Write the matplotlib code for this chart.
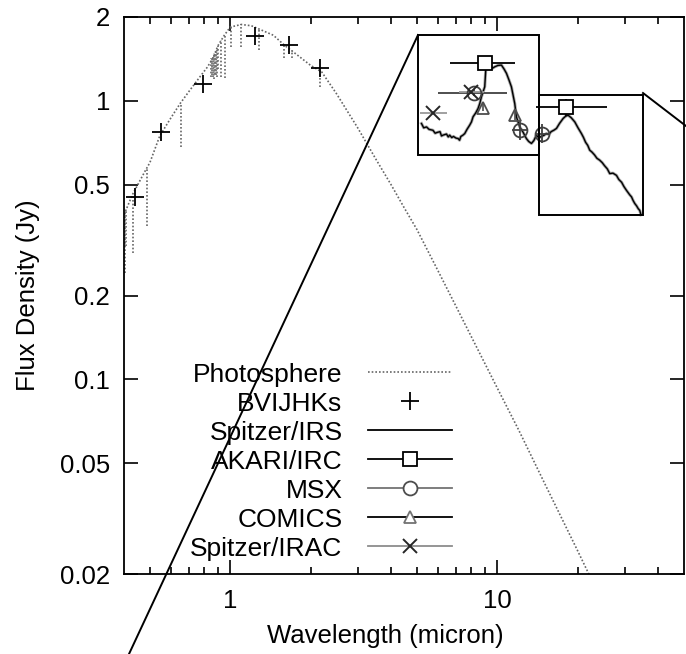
import numpy as np
import matplotlib
matplotlib.use("Agg")
import matplotlib.pyplot as plt
from matplotlib.lines import Line2D
from matplotlib.patches import Rectangle
from matplotlib.ticker import FixedLocator, NullLocator, NullFormatter

plt.rcParams['font.family'] = ['Liberation Sans', 'DejaVu Sans']

# Photosphere model (continuum)
phot_wl = [0.40, 0.43, 0.48, 0.50, 0.545, 0.60, 0.65, 0.70, 0.76, 0.82, 0.86, 0.90,
           0.95, 1.0, 1.1, 1.2, 1.3, 1.45, 1.6, 1.8, 2.0, 2.2, 2.5, 3.0, 3.5, 4.0,
           4.5, 5.0, 6.0, 7.0, 8.0, 10.0, 12.0, 15.0, 20.0, 25.0]
phot_flux = [0.39, 0.46, 0.56, 0.60, 0.75, 0.87, 0.98, 1.08, 1.20, 1.32, 1.42, 1.58,
             1.72, 1.84, 1.88, 1.86, 1.80, 1.72, 1.58, 1.45, 1.34, 1.27, 1.06, 0.80, 0.62, 0.50,
             0.41, 0.345, 0.245, 0.183, 0.142, 0.093, 0.066, 0.0425, 0.0242, 0.0155]

# absorption lines in the model
line_wl = [0.403, 0.408, 0.431, 0.486, 0.656, 0.850, 0.854, 0.860, 0.866, 0.875, 0.882,
           0.890, 0.901, 0.923, 0.955, 1.005, 1.094, 1.282, 1.59, 1.70, 2.166]
line_top = [0.40, 0.41, 0.46, 0.57, 0.98, 1.42, 1.44, 1.46, 1.48, 1.50, 1.52,
            1.55, 1.58, 1.65, 1.74, 1.85, 1.88, 1.81, 1.60, 1.52, 1.30]
line_bot = [0.24, 0.30, 0.285, 0.356, 0.68, 1.22, 1.24, 1.22, 1.20, 1.25, 1.24,
            1.22, 1.30, 1.22, 1.21, 1.56, 1.56, 1.52, 1.43, 1.42, 1.12]

# BVIJHKs photometry
bvi_wl = [0.44, 0.55, 0.79, 1.235, 1.66, 2.16]
bvi_flux = [0.451, 0.772, 1.148, 1.713, 1.586, 1.31]

# Spitzer/IRS spectrum (as shown in the zoom panel)
irs_wl = [5.20, 5.30, 5.43, 5.55, 5.74, 5.85, 5.95, 6.10, 6.18, 6.26, 6.45, 6.55, 6.63, 6.75,
          6.85, 7.00, 7.13, 7.22, 7.30, 7.42, 7.55, 7.70, 7.88, 8.00, 8.11, 8.30, 8.47, 8.60,
          8.72, 8.85, 8.97, 9.05, 9.15, 9.30, 9.45, 9.60, 9.78, 10.05, 10.36, 10.60, 10.82,
          11.05, 11.29, 11.45, 11.62, 11.79, 12.13, 12.50, 12.85, 13.10, 13.42, 13.70, 14.01,
          14.30, 14.60, 14.95, 15.27, 15.60, 15.90, 16.30, 16.65, 17.10, 17.63, 18.00, 18.40,
          18.90, 19.50, 20.05, 20.65, 21.00, 21.40, 21.80, 22.18, 22.60, 23.10, 23.60, 24.18,
          24.70, 25.20, 25.80, 26.36, 27.10, 27.93, 28.50, 29.20, 29.80, 30.45, 31.30, 31.80,
          32.23, 32.70, 33.20, 33.70, 34.15, 34.5]
irs_flux = [0.829, 0.80, 0.806, 0.79, 0.784, 0.765, 0.77, 0.775, 0.748, 0.753, 0.76, 0.742,
            0.753, 0.738, 0.745, 0.735, 0.732, 0.722, 0.745, 0.752, 0.763, 0.79, 0.818, 0.84,
            0.876, 0.905, 0.939, 0.98, 1.034, 1.08, 1.123, 1.29, 1.344, 1.325, 1.33, 1.31,
            1.325, 1.34, 1.344, 1.30, 1.255, 1.19, 1.123, 1.05, 0.978, 0.876, 0.806, 0.77,
            0.732, 0.715, 0.703, 0.72, 0.753, 0.736, 0.745, 0.752, 0.763, 0.758, 0.775, 0.785,
            0.796, 0.83, 0.864, 0.88, 0.888, 0.87, 0.840, 0.80, 0.763, 0.74, 0.71, 0.692,
            0.665, 0.655, 0.64, 0.622, 0.612, 0.600, 0.585, 0.570, 0.548, 0.55, 0.540, 0.522,
            0.51, 0.492, 0.477, 0.46, 0.452, 0.439, 0.428, 0.42, 0.41, 0.404, 0.39]

# AKARI/IRC
akari_wl = [8.97, 18.0]
akari_flux = [1.366, 0.949]
akari_lo = [6.63, 13.93]
akari_hi = [11.62, 25.7]
akari_ferr = [0.05, 0.07]

# MSX
msx_wl = [8.16, 12.13, 14.75]
msx_flux = [1.07, 0.784, 0.763]
msx_lo = [5.98, 11.35, 13.95]
msx_hi = [10.84, 12.95, 15.6]
msx_ferr = [0.03, 0.06, 0.06]

# COMICS
comics_wl = [8.80, 11.62]
comics_flux = [0.946, 0.893]
comics_ferr = [0.03, 0.04]

# Spitzer/IRAC
irac_wl = [5.73, 8.0]
irac_flux = [0.903, 1.075]
irac_lo = [5.12, 7.2]
irac_hi = [6.46, 8.9]

W, H = 686, 654


def fpx(x, y):
    return x / W, 1 - y / H


fig = plt.figure(figsize=(W / 100, H / 100), dpi=100)
ax = fig.add_axes([124 / W, 1 - 574 / H, 560 / W, 557 / H])
ax.set_xscale('log')
ax.set_yscale('log')

phot_style = dict(color='0.4', linestyle=(0, (1, 1.2)), linewidth=1.2)
ax.plot(phot_wl, phot_flux, **phot_style)
ax.vlines(line_wl, line_bot, line_top, **phot_style)

ax.plot(bvi_wl, bvi_flux, '+', color='black', markersize=13, mew=1.3)

ax.plot(irs_wl, irs_flux, color='0.65', linewidth=2.2, solid_joinstyle='round')
ax.plot(irs_wl, irs_flux, color='black', linewidth=1.0)

ax.errorbar(akari_wl, akari_flux,
            xerr=[np.array(akari_wl) - akari_lo, np.array(akari_hi) - akari_wl],
            yerr=akari_ferr, fmt='s', mfc='white', mec='black', ms=10, mew=1.3,
            ecolor='black', elinewidth=1.3, capsize=0)
ax.errorbar(msx_wl, msx_flux,
            xerr=[np.array(msx_wl) - msx_lo, np.array(msx_hi) - msx_wl],
            yerr=msx_ferr, fmt='o', mfc='none', mec='0.25', ms=10, mew=1.3,
            ecolor='0.25', elinewidth=1.3, capsize=0)
ax.errorbar(comics_wl, comics_flux, yerr=comics_ferr, fmt='^', mfc='none', mec='0.3',
            ms=9, mew=1.3, ecolor='0.3', elinewidth=1.2, capsize=0)
ax.errorbar(irac_wl, irac_flux,
            xerr=[np.array(irac_wl) - irac_lo, np.array(irac_hi) - irac_wl],
            fmt='x', mec='0.15', ms=10, mew=1.4, ecolor='0.6', elinewidth=1.3, capsize=0)

ax.set_xlim(0.4, 50)
ax.set_ylim(0.02, 2)

ax.xaxis.set_major_locator(FixedLocator([1, 10]))
ax.set_xticklabels(['1', '10'])
ax.xaxis.set_minor_locator(FixedLocator([0.5, 0.6, 0.7, 0.8, 0.9, 2, 3, 4, 5, 6, 7, 8, 9, 20, 30, 40]))
ax.xaxis.set_minor_formatter(NullFormatter())
yt = [0.02, 0.05, 0.1, 0.2, 0.5, 1, 2]
ax.yaxis.set_major_locator(FixedLocator(yt))
ax.set_yticklabels(['0.02', '0.05', '0.1', '0.2', '0.5', '1', '2'])
ax.yaxis.set_minor_locator(NullLocator())

ax.tick_params(which='both', direction='in', top=True, right=True, width=1.2,
               labelsize=18.5, colors='black')
ax.tick_params(which='major', length=10)
ax.tick_params(which='minor', length=5)
ax.tick_params(axis='x', pad=11)
ax.tick_params(axis='y', pad=10)
for sp in ax.spines.values():
    sp.set_linewidth(1.3)

ax.set_xlabel('Wavelength (micron)', fontsize=18.5)
ax.set_ylabel('Flux Density (Jy)', fontsize=18.5)
ax.xaxis.set_label_coords((385 - 124) / 560, -(643 - 574) / 557, transform=ax.transAxes)
ax.xaxis.label.set_va('baseline')
ax.yaxis.set_label_coords(-(124 - 28) / 560, 0.5)
ax.yaxis.label.set_va('center')

handles = [
    Line2D([], [], **phot_style),
    Line2D([], [], linestyle='none', marker='+', color='black', markersize=13, mew=1.3),
    Line2D([], [], color='black', linewidth=1.3),
    Line2D([], [], color='black', linewidth=1.3, marker='s', mfc='white', mec='black', ms=10, mew=1.3),
    Line2D([], [], color='0.45', linewidth=1.3, marker='o', mfc='white', mec='0.3', ms=10, mew=1.3),
    Line2D([], [], color='black', linewidth=1.3, marker='^', mfc='white', mec='0.45', ms=9, mew=1.3),
    Line2D([], [], color='0.55', linewidth=1.3, marker='x', mec='0.15', ms=10, mew=1.4),
]
labels = ['Photosphere', 'BVIJHKs', 'Spitzer/IRS', 'AKARI/IRC', 'MSX', 'COMICS', 'Spitzer/IRAC']
ax.legend(handles, labels, loc='lower right', bbox_to_anchor=((452 - 124) / 560, 0.024),
          markerfirst=False, frameon=False, borderpad=0, borderaxespad=0,
          handlelength=3.2, handletextpad=0.95, labelspacing=0.19, fontsize=19)

# zoom boxes and connector lines
for (x0, y0, x1, y1) in [(417.5, 35, 538.5, 155), (538.5, 95, 643, 215)]:
    fx0, fy1 = fpx(x0, y0)
    fx1, fy0 = fpx(x1, y1)
    fig.add_artist(Rectangle((fx0, fy0), fx1 - fx0, fy1 - fy0, fill=False,
                             edgecolor='black', linewidth=1.4, transform=fig.transFigure))
for (xa, ya, xb, yb) in [(418, 35, 129, 654), (643, 93, 686, 126)]:
    a = fpx(xa, ya)
    b = fpx(xb, yb)
    fig.add_artist(Line2D([a[0], b[0]], [a[1], b[1]], color='black', linewidth=1.4,
                          transform=fig.transFigure))

fig.savefig('out.png', dpi=100)
